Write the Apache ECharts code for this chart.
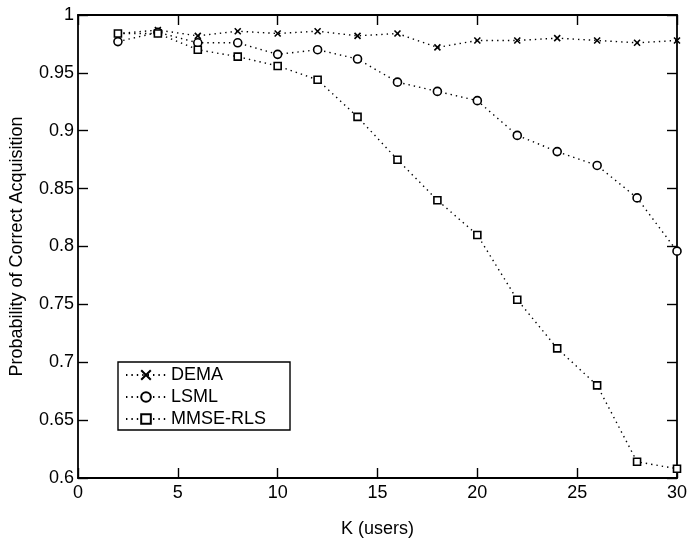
<!DOCTYPE html>
<html>
<head>
<meta charset="utf-8">
<script src="https://cdn.jsdelivr.net/npm/echarts@6/dist/echarts.min.js"></script>
<style>
  html, body { margin: 0; padding: 0; background: #fff; }
  #chart { width: 700px; height: 543px; }
</style>
</head>
<body>
<div id="chart"></div>
<script>
// K (number of users)
const kUsers = [2, 4, 6, 8, 10, 12, 14, 16, 18, 20, 22, 24, 26, 28, 30];

// probability of correct acquisition
const dema = [0.984, 0.987, 0.982, 0.986, 0.984, 0.986, 0.982, 0.984, 0.972, 0.978, 0.978, 0.980, 0.978, 0.976, 0.978];
const lsml = [0.977, 0.985, 0.976, 0.976, 0.966, 0.970, 0.962, 0.942, 0.934, 0.926, 0.896, 0.882, 0.870, 0.842, 0.796];
const mmseRls = [0.984, 0.984, 0.970, 0.964, 0.956, 0.944, 0.912, 0.875, 0.840, 0.810, 0.754, 0.712, 0.680, 0.614, 0.608];

const font = "'Liberation Sans', Arial, sans-serif";

const pairs = (ys) => kUsers.map((k, i) => [k, ys[i]]);

const lineSeries = (name, ys, symbol, size) => ({
  name: name,
  type: "line",
  data: pairs(ys),
  symbol: symbol,
  symbolSize: size,
  showAllSymbol: true,
  lineStyle: { color: "#000", width: 1.4, type: [1.4, 4] },
  itemStyle: { color: "#fff", borderColor: "#000", borderWidth: 1.6 },
  emphasis: { disabled: true },
  animation: false
});

const xBase = {
  type: "value",
  min: 0,
  max: 30,
  interval: 5,
  splitLine: { show: false },
  axisLine: { onZero: false, lineStyle: { color: "#000", width: 1.8 } },
  axisTick: { inside: true, length: 10, lineStyle: { color: "#000", width: 1.4 } }
};

const yBase = {
  type: "value",
  min: 0.6,
  max: 1,
  interval: 0.05,
  splitLine: { show: false },
  axisLine: { onZero: false, lineStyle: { color: "#000", width: 1.8 } },
  axisTick: { inside: true, length: 10, lineStyle: { color: "#000", width: 1.4 } }
};

const option = {
  backgroundColor: "#fff",
  animation: false,
  grid: { left: 76, right: 23, top: 15, bottom: 55 },
  legend: {
    orient: "vertical",
    left: 118,
    top: 362,
    itemWidth: 40,
    itemHeight: 12,
    itemGap: 4,
    padding: [4, 24, 2, 7],
    backgroundColor: "#fff",
    borderColor: "#000",
    borderWidth: 1.4,
    borderRadius: 0,
    textStyle: { fontFamily: font, fontSize: 18, color: "#000" },
    data: ["DEMA", "LSML", "MMSE-RLS"]
  },
  xAxis: [
    Object.assign({}, xBase, {
      position: "bottom",
      name: "K (users)",
      nameLocation: "middle",
      nameGap: 42,
      nameTextStyle: { fontFamily: font, fontSize: 18, color: "#000" },
      axisLabel: { fontFamily: font, fontSize: 18, color: "#000", margin: 6 }
    }),
    Object.assign({}, xBase, { position: "top", axisLabel: { show: false } })
  ],
  yAxis: [
    Object.assign({}, yBase, {
      position: "left",
      name: "Probability of Correct Acquisition",
      nameLocation: "middle",
      nameGap: 52,
      nameTextStyle: { fontFamily: font, fontSize: 18, color: "#000" },
      axisLabel: {
        fontFamily: font, fontSize: 18, color: "#000", margin: 4,
        formatter: (v) => String(+v.toFixed(2))
      }
    }),
    Object.assign({}, yBase, { position: "right", axisLabel: { show: false } })
  ],
  series: [
    lineSeries("DEMA", dema, "path://M0,0L10,10M10,0L0,10", 6),
    lineSeries("LSML", lsml, "circle", 8),
    lineSeries("MMSE-RLS", mmseRls, "rect", 7)
  ]
};

echarts.init(document.getElementById("chart")).setOption(option);
</script>
</body>
</html>
